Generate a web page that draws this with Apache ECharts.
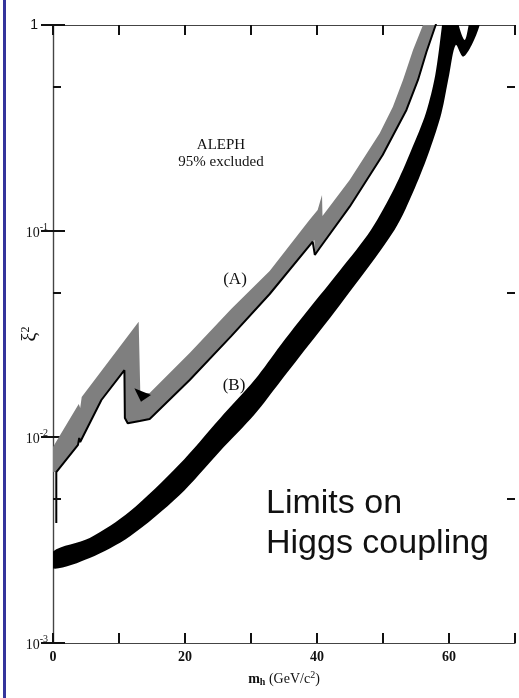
<!DOCTYPE html>
<html>
<head>
<meta charset="utf-8">
<script src="https://cdn.jsdelivr.net/npm/echarts@6/dist/echarts.min.js"></script>
<style>
  html, body { margin: 0; padding: 0; background: #fff; }
  #chart { width: 519px; height: 698px; }
</style>
</head>
<body>
<div id="chart"></div>
<script>
// band (A): grey band, upper edge and black lower edge  [m_h, xi^2]
const bandAUpper = [[0,0.00894],[3.9,0.01446],[4.12,0.01383],[4.35,0.01564],[12.98,0.03628],[13.23,0.0163],
  [14.65,0.01635],[20.71,0.0256],[27.0,0.0418],[32.83,0.0639],[38.85,0.1131],[40.1,0.1264],[40.76,0.1496],
  [40.83,0.1183],[44.95,0.177],[49.5,0.298],[51.5,0.401],[53.03,0.541],[54.55,0.756],[56.06,1.0],[57.07,1.32]];
const bandALower = [[0.5,0.00382],[0.5,0.00676],[3.79,0.00915],[3.97,0.00989],[4.12,0.00946],[7.33,0.01512],
  [10.82,0.0211],[10.89,0.01237],[11.32,0.01165],[13.14,0.01196],[14.65,0.01223],[20.71,0.0189],[27.0,0.0309],
  [32.83,0.04945],[39.35,0.0887],[39.6,0.0904],[39.67,0.0765],[40.41,0.0827],[44.95,0.1312],[49.95,0.2338],
  [53.55,0.387],[55.3,0.541],[56.58,0.7396],[57.98,1.0],[58.9,1.32]];
const bandABlob = [[12.33,0.01723],[14.85,0.01599],[13.33,0.01483]];

// band (B): black band, upper and lower edges
const bandBUpper = [[0,0.00278],[5.56,0.003233],[11.62,0.004347],[19.12,0.007353],[25.26,0.01228],[30.56,0.01895],
  [34.5,0.02797],[37.38,0.03677],[43.44,0.06408],[48.17,0.1011],[51.74,0.1617],[54.29,0.2472],[56.5,0.374],
  [57.92,0.5719],[58.95,1.0],[59.35,1.32],[61.02,1.32],[61.47,1.0],[62.38,0.8456],[62.98,1.0],[63.59,1.32]];
const bandBLower = [[0,0.0023],[5.56,0.002585],[11.62,0.003289],[19.12,0.0052],[25.26,0.008511],[30.56,0.0129],
  [34.5,0.0187],[37.38,0.02459],[43.44,0.04362],[51.74,0.1011],[54.83,0.1617],[57.08,0.2472],[58.86,0.374],
  [60.02,0.5719],[61.02,0.7997],[62.12,0.7016],[63.44,0.7997],[64.65,1.0],[65.26,1.25]];

const minorTicks = [0.005, 0.05, 0.5];
const xLabels = [0, 20, 40, 60];
const xMin = 0, xMax = 70;

const serif = '"Liberation Serif", "Times New Roman", serif';
const sans = '"Liberation Sans", Arial, sans-serif';

const polyA = bandAUpper.concat(bandALower.slice(1).reverse(), [[0, bandALower[1][1]]]);
const polyB = bandBUpper.concat(bandBLower.slice().reverse());

function polygonSeries(points, fill, z, smooth) {
  return {
    type: 'custom',
    clip: true,
    z: z,
    silent: true,
    data: points,
    renderItem: (params, api) => {
      if (params.dataIndex !== 0) return null;
      return {
        type: 'polygon',
        shape: { points: points.map(p => api.coord(p)), smooth: smooth || 0 },
        style: { fill: fill }
      };
    }
  };
}

const chart = echarts.init(document.getElementById('chart'));

const tickStyle = { color: '#111', width: 2 };
const lineStyle = { color: '#444', width: 1.2 };

chart.setOption({
  animation: false,
  backgroundColor: '#fff',
  grid: { left: 53, right: 4, top: 25, bottom: 55, containLabel: false, outerBoundsMode: 'none' },
  xAxis: [
    {
      type: 'value', min: xMin, max: xMax, interval: 10, position: 'bottom',
      axisLine: { show: true, lineStyle: lineStyle },
      axisTick: { show: true, inside: true, length: 10, lineStyle: tickStyle },
      splitLine: { show: false },
      axisLabel: {
        margin: 7,
        formatter: v => xLabels.includes(v) ? String(v) : '',
        fontFamily: serif, fontSize: 14, fontWeight: 'bold', color: '#111'
      },
      name: '{m|m}{h|h}{t| (GeV/c}{s|2}{t|)}',
      nameLocation: 'middle',
      nameMoveOverlap: false,
      nameGap: 27,
      nameTextStyle: {
        rich: {
          m: { fontFamily: serif, fontWeight: 'bold', fontSize: 14, color: '#111' },
          h: { fontFamily: serif, fontWeight: 'bold', fontSize: 10, color: '#111', padding: [7, 0, 0, 0] },
          t: { fontFamily: serif, fontSize: 14, color: '#111' },
          s: { fontFamily: serif, fontSize: 10, color: '#111', padding: [0, 0, 8, 0] }
        }
      }
    },
    {
      type: 'value', min: xMin, max: xMax, interval: 10, position: 'top',
      axisLine: { show: true, lineStyle: lineStyle },
      axisTick: { show: true, inside: true, length: 10, lineStyle: tickStyle },
      splitLine: { show: false },
      axisLabel: { show: false }
    }
  ],
  yAxis: [
    {
      type: 'log', logBase: 10, min: 0.001, max: 1, splitNumber: 3, position: 'left',
      axisLine: { show: true, lineStyle: lineStyle },
      axisTick: { show: true, inside: true, length: 12, lineStyle: tickStyle },
      splitLine: { show: false },
      axisLabel: {
        margin: 5,
        formatter: v => {
          if (v >= 0.999) return '{one|1}';
          return '{b|10}{s|' + Math.round(Math.log10(v)) + '}';
        },
        rich: {
          one: { fontFamily: sans, fontSize: 14, color: '#111', padding: [0, 10, 0, 0] },
          b: { fontFamily: serif, fontSize: 14, color: '#111', padding: [4, 0, 0, 0] },
          s: { fontFamily: serif, fontSize: 10, color: '#111', padding: [0, 0, 8, 0] }
        }
      },
      name: '{x|ξ}{s|2}',
      nameLocation: 'middle',
      nameMoveOverlap: false,
      nameRotate: 90,
      nameGap: 11,
      nameTextStyle: {
        rich: {
          x: { fontFamily: serif, fontSize: 20, color: '#111' },
          s: { fontFamily: serif, fontSize: 12, color: '#111', padding: [0, 0, 10, 0] }
        }
      }
    },
    {
      type: 'log', logBase: 10, min: 0.001, max: 1, splitNumber: 3, position: 'right',
      axisLine: { show: true, lineStyle: lineStyle },
      axisTick: { show: true, inside: true, length: 12, lineStyle: tickStyle },
      splitLine: { show: false },
      axisLabel: { show: false }
    }
  ],
  graphic: [
    { type: 'rect', left: 3, top: 0, shape: { width: 3, height: 698 }, style: { fill: '#34349c' } },
    { type: 'text', x: 221, y: 145, style: { text: 'ALEPH', font: '15px ' + serif, fill: '#111', align: 'center', verticalAlign: 'middle' } },
    { type: 'text', x: 221, y: 162, style: { text: '95% excluded', font: '15px ' + serif, fill: '#111', align: 'center', verticalAlign: 'middle' } },
    { type: 'text', x: 235, y: 280, style: { text: '(A)', font: '17px ' + serif, fill: '#111', align: 'center', verticalAlign: 'middle' } },
    { type: 'text', x: 234, y: 386, style: { text: '(B)', font: '17px ' + serif, fill: '#111', align: 'center', verticalAlign: 'middle' } },
    { type: 'text', x: 266, y: 504, style: { text: 'Limits on', font: '34px ' + sans, fill: '#111', align: 'left', verticalAlign: 'middle' } },
    { type: 'text', x: 266, y: 544, style: { text: 'Higgs coupling', font: '34px ' + sans, fill: '#111', align: 'left', verticalAlign: 'middle' } }
  ],
  series: [
    polygonSeries(polyB, '#000', 2, 0.3),
    polygonSeries(polyA, '#7f7f7f', 3),
    polygonSeries(bandABlob, '#000', 4),
    {
      type: 'line',
      z: 5,
      data: bandALower,
      showSymbol: false,
      clip: true,
      silent: true,
      lineStyle: { color: '#000', width: 2 }
    },
    {
      // minor ticks at 5 x 10^n on both y axes
      type: 'custom',
      z: 6,
      silent: true,
      data: minorTicks.map(v => [xMin, v]),
      renderItem: (params, api) => {
        const l = api.coord([xMin, api.value(1)]);
        const r = api.coord([xMax, api.value(1)]);
        return {
          type: 'group',
          children: [
            { type: 'line', shape: { x1: l[0], y1: l[1], x2: l[0] + 8, y2: l[1] }, style: { stroke: '#111', lineWidth: 2 } },
            { type: 'line', shape: { x1: r[0] - 8, y1: r[1], x2: r[0], y2: r[1] }, style: { stroke: '#111', lineWidth: 2 } }
          ]
        };
      }
    }
  ]
});
</script>
</body>
</html>
